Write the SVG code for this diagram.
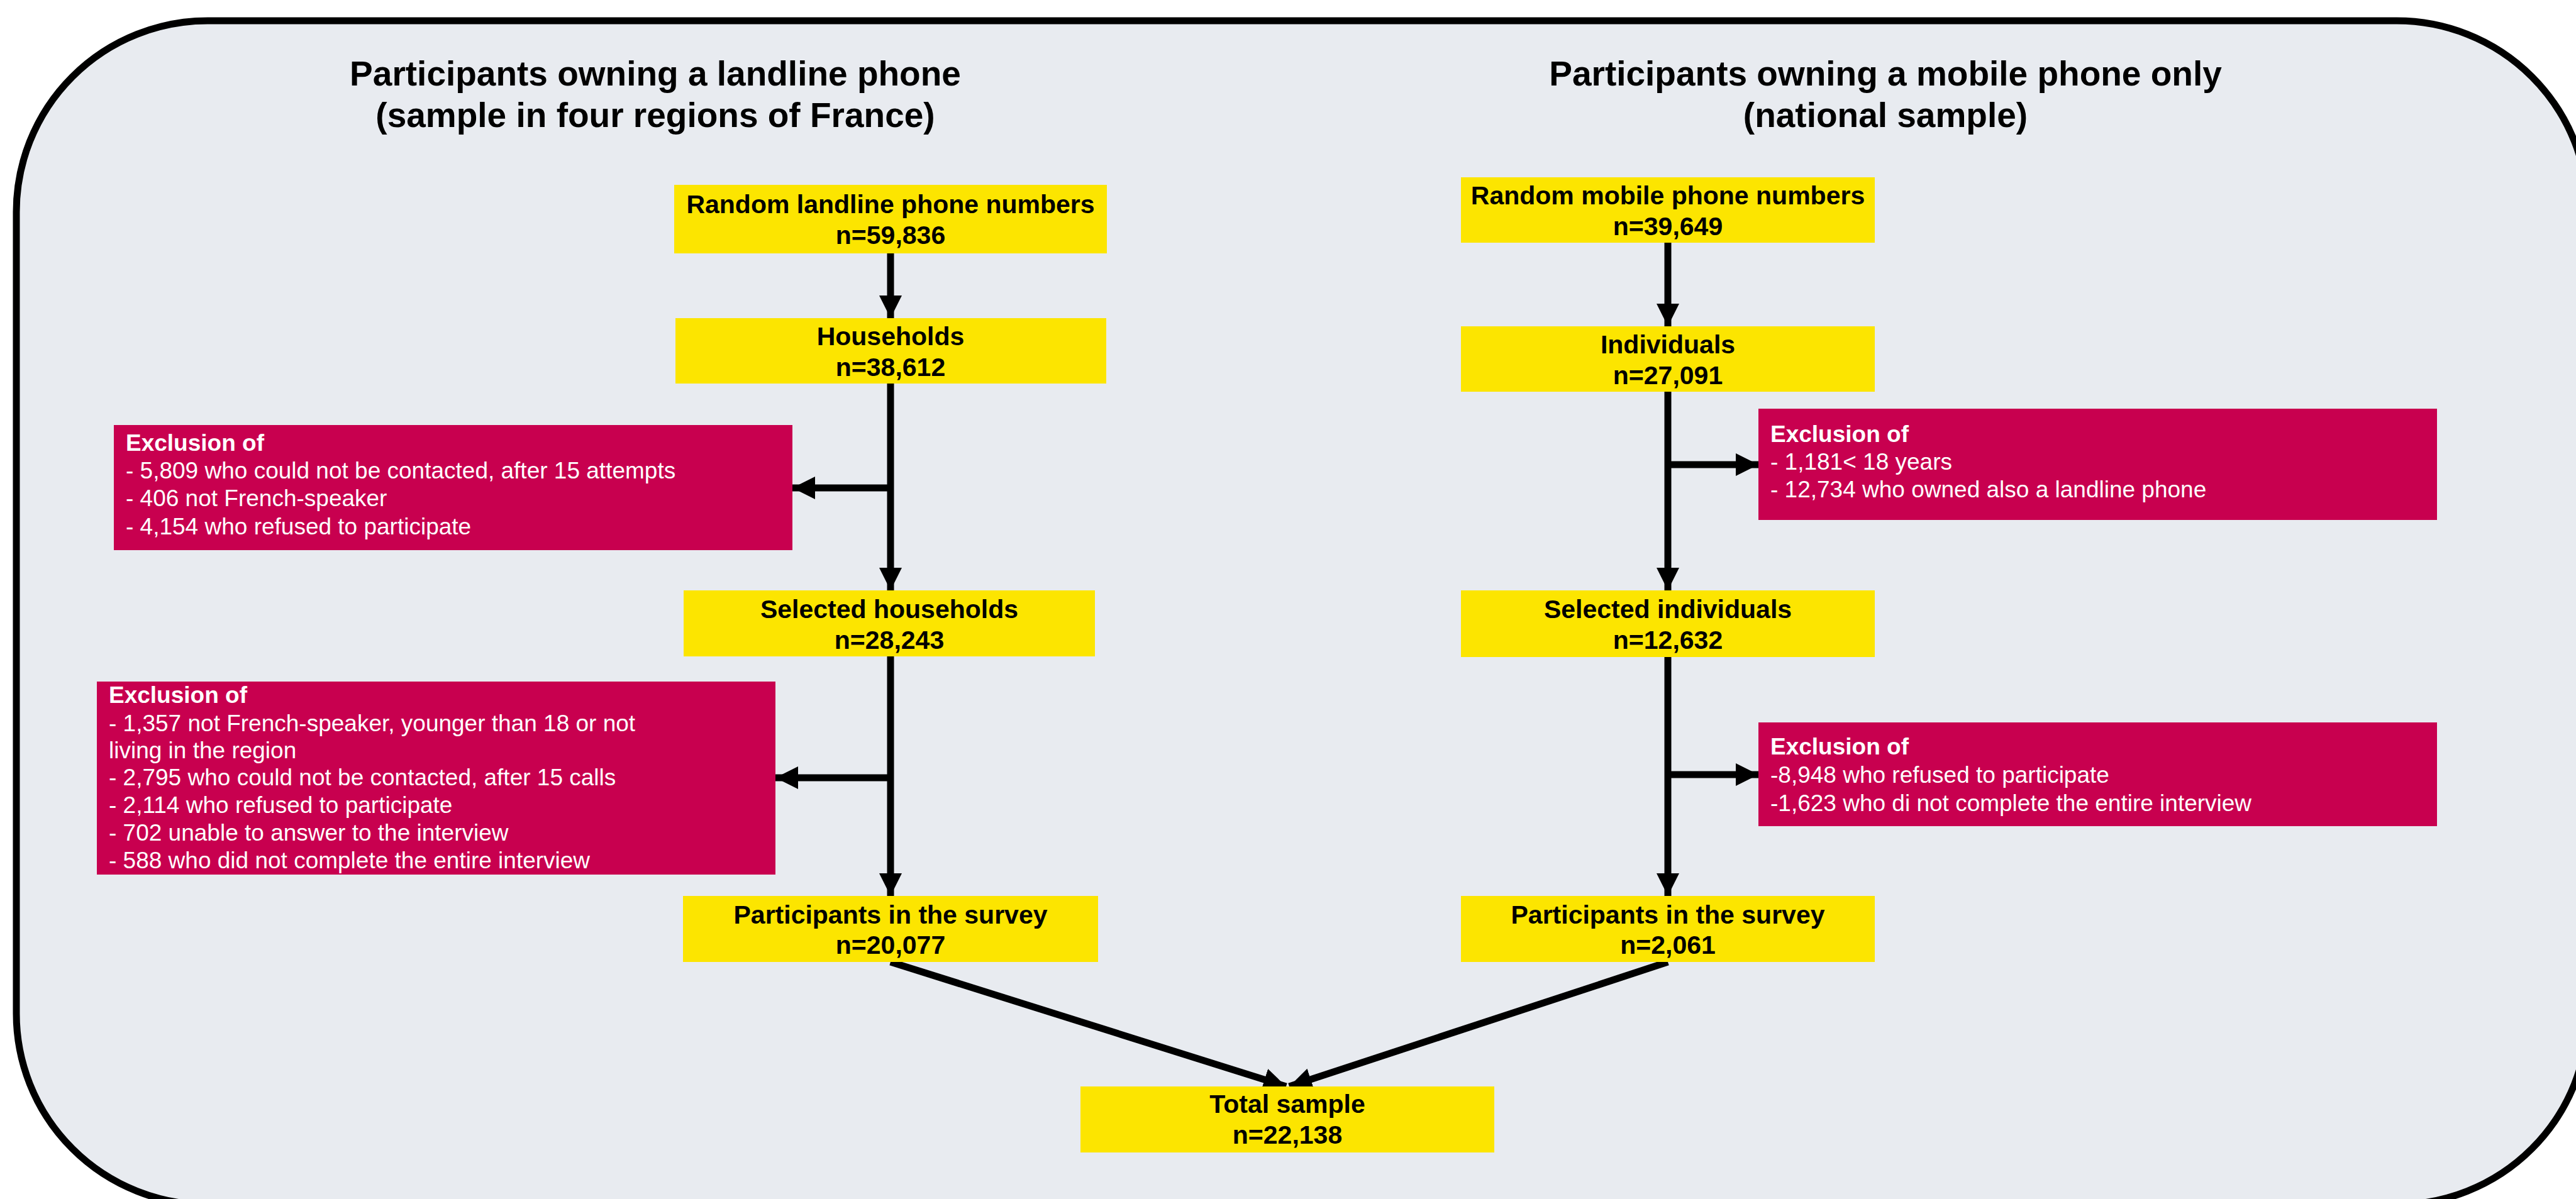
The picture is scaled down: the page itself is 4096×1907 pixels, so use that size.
<svg xmlns="http://www.w3.org/2000/svg" width="4096" height="1907" viewBox="0 0 4096 1907">
<defs>
<style>
.bg{fill:#E8EBF0;stroke:#000;stroke-width:11}
.yb{fill:#FCE500}
.rb{fill:#C8004F}
.nt{font-family:"Liberation Sans",Arial,sans-serif;font-weight:bold;font-size:41px;fill:#000;text-anchor:middle}
.tt{font-family:"Liberation Sans",Arial,sans-serif;font-weight:bold;font-size:55px;fill:#000;text-anchor:middle}
.et{font-family:"Liberation Sans",Arial,sans-serif;font-size:37px;fill:#fff}
.eh{font-weight:bold}
.ln{stroke:#000;stroke-width:11;fill:none}
</style>
<marker id="ah" markerUnits="userSpaceOnUse" markerWidth="36" markerHeight="36" viewBox="0 0 34 34" refX="34" refY="17" orient="auto">
<path d="M0,0 L34,17 L0,34 Z" fill="#000"/>
</marker>
</defs>
<rect class="bg" x="26" y="33" width="4089" height="1883" rx="304" ry="304"/>
<g id="titles">
<text class="tt" x="1042" y="136">Participants owning a landline phone</text>
<text class="tt" x="1042" y="202">(sample in four regions of France)</text>
<text class="tt" x="2998" y="136">Participants owning a mobile phone only</text>
<text class="tt" x="2998" y="202">(national sample)</text>
</g>
<g id="connectors">
<line class="ln" x1="1416" y1="403" x2="1416" y2="506" marker-end="url(#ah)"/>
<line class="ln" x1="1416" y1="610" x2="1416" y2="939" marker-end="url(#ah)"/>
<line class="ln" x1="1416" y1="776" x2="1260" y2="776" marker-end="url(#ah)"/>
<line class="ln" x1="1416" y1="1044" x2="1416" y2="1425" marker-end="url(#ah)"/>
<line class="ln" x1="1416" y1="1237" x2="1233" y2="1237" marker-end="url(#ah)"/>
<line class="ln" x1="2652" y1="386" x2="2652" y2="519" marker-end="url(#ah)"/>
<line class="ln" x1="2652" y1="623" x2="2652" y2="939" marker-end="url(#ah)"/>
<line class="ln" x1="2652" y1="739" x2="2796" y2="739" marker-end="url(#ah)"/>
<line class="ln" x1="2652" y1="1045" x2="2652" y2="1425" marker-end="url(#ah)"/>
<line class="ln" x1="2652" y1="1232" x2="2796" y2="1232" marker-end="url(#ah)"/>
<line class="ln" x1="1416" y1="1530" x2="2045" y2="1728" marker-end="url(#ah)"/>
<line class="ln" x1="2652" y1="1530" x2="2050" y2="1728" marker-end="url(#ah)"/>
</g>
<g id="n-landline">
<rect class="yb" x="1072" y="294" width="688" height="109"/>
<text class="nt" x="1416" y="339">Random landline phone numbers</text>
<text class="nt" x="1416" y="388">n=59,836</text>
</g>
<g id="n-households">
<rect class="yb" x="1074" y="506" width="685" height="104"/>
<text class="nt" x="1416" y="549">Households</text>
<text class="nt" x="1416" y="598">n=38,612</text>
</g>
<g id="n-excl1">
<rect class="rb" x="181" y="676" width="1079" height="199"/>
<text class="et eh" x="200" y="717">Exclusion of</text>
<text class="et" x="200" y="761">- 5,809 who could not be contacted, after 15 attempts</text>
<text class="et" x="200" y="805">- 406 not French-speaker</text>
<text class="et" x="200" y="850">- 4,154 who refused to participate</text>
</g>
<g id="n-selhh">
<rect class="yb" x="1087" y="939" width="654" height="105"/>
<text class="nt" x="1414" y="983">Selected households</text>
<text class="nt" x="1414" y="1032">n=28,243</text>
</g>
<g id="n-excl2">
<rect class="rb" x="154" y="1084" width="1079" height="307"/>
<text class="et eh" x="173" y="1118">Exclusion of</text>
<text class="et" x="173" y="1163">- 1,357 not French-speaker, younger than 18 or not</text>
<text class="et" x="173" y="1206">living in the region</text>
<text class="et" x="173" y="1249">- 2,795 who could not be contacted, after 15 calls</text>
<text class="et" x="173" y="1293">- 2,114 who refused to participate</text>
<text class="et" x="173" y="1337">- 702 unable to answer to the interview</text>
<text class="et" x="173" y="1381">- 588 who did not complete the entire interview</text>
</g>
<g id="n-part1">
<rect class="yb" x="1086" y="1425" width="660" height="105"/>
<text class="nt" x="1416" y="1469">Participants in the survey</text>
<text class="nt" x="1416" y="1517">n=20,077</text>
</g>
<g id="n-mobile">
<rect class="yb" x="2323" y="282" width="658" height="104"/>
<text class="nt" x="2652" y="325">Random mobile phone numbers</text>
<text class="nt" x="2652" y="374">n=39,649</text>
</g>
<g id="n-indiv">
<rect class="yb" x="2323" y="519" width="658" height="104"/>
<text class="nt" x="2652" y="562">Individuals</text>
<text class="nt" x="2652" y="611">n=27,091</text>
</g>
<g id="n-excl3">
<rect class="rb" x="2796" y="650" width="1079" height="177"/>
<text class="et eh" x="2815" y="703">Exclusion of</text>
<text class="et" x="2815" y="747">- 1,181&lt; 18 years</text>
<text class="et" x="2815" y="791">- 12,734 who owned also a landline phone</text>
</g>
<g id="n-selind">
<rect class="yb" x="2323" y="939" width="658" height="106"/>
<text class="nt" x="2652" y="983">Selected individuals</text>
<text class="nt" x="2652" y="1032">n=12,632</text>
</g>
<g id="n-excl4">
<rect class="rb" x="2796" y="1149" width="1079" height="165"/>
<text class="et eh" x="2815" y="1200">Exclusion of</text>
<text class="et" x="2815" y="1245">-8,948 who refused to participate</text>
<text class="et" x="2815" y="1290">-1,623 who di not complete the entire interview</text>
</g>
<g id="n-part2">
<rect class="yb" x="2323" y="1425" width="658" height="105"/>
<text class="nt" x="2652" y="1469">Participants in the survey</text>
<text class="nt" x="2652" y="1517">n=2,061</text>
</g>
<g id="n-total">
<rect class="yb" x="1718" y="1728" width="658" height="105"/>
<text class="nt" x="2047" y="1770">Total sample</text>
<text class="nt" x="2047" y="1819">n=22,138</text>
</g>
</svg>
